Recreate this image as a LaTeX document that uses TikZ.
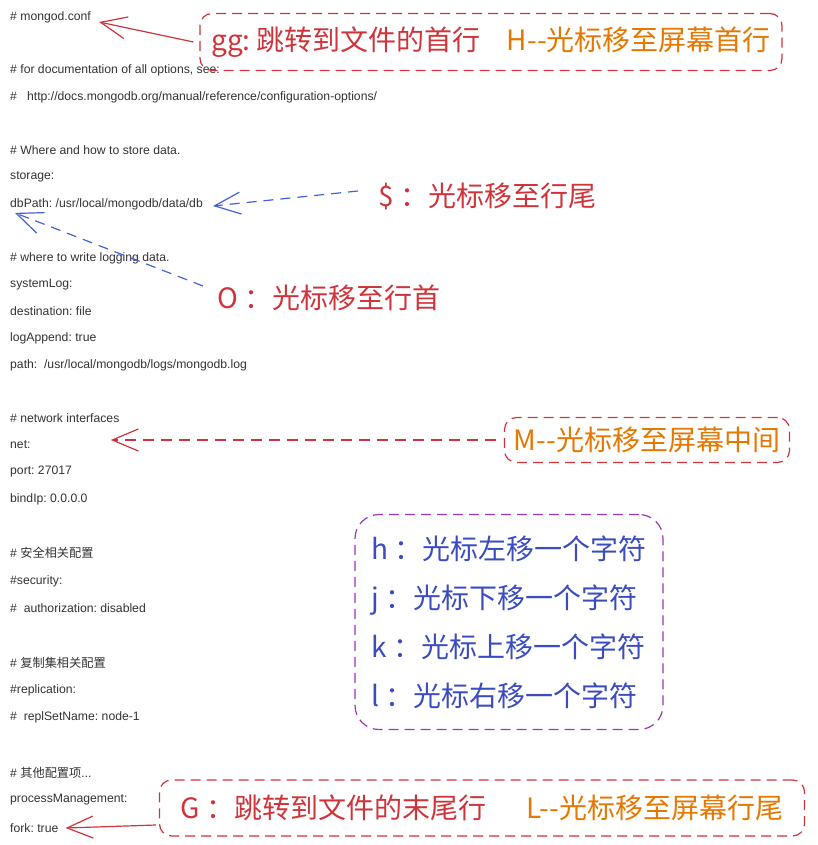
\documentclass[tikz,border=0pt]{standalone}
\usepackage{fontspec}
\setmainfont{Liberation Sans}
\newfontfamily\cjk{Noto Sans CJK SC}
\usepackage{tikz}
\usetikzlibrary{arrows.meta,positioning,calc}
\definecolor{ink}{HTML}{333333}
\definecolor{brick}{HTML}{D0343A}
\definecolor{amber}{HTML}{E67700}
\definecolor{indigo}{HTML}{3B4CC0}
\definecolor{sky}{HTML}{4262D8}
\definecolor{violet}{HTML}{9C36B5}
\newcommand{\notefont}{\cjk\fontsize{28}{32}\selectfont}
\frenchspacing

\begin{document}
\begin{tikzpicture}[
  x=1pt,y=-1pt,
  code/.style={anchor=west,inner sep=0pt,text=ink,font=\fontsize{12.2}{14}\selectfont},
  note/.style={anchor=west,inner sep=0pt,font=\notefont},
  tip/.style={draw=brick,dashed,dash pattern=on 10pt off 6pt,line width=1.2pt,
              rounded corners=12pt,font=\notefont,inner sep=0pt},
  redarr/.style={-{Straight Barb[length=26pt,width=22pt,line width=1.2pt]},line width=1.2pt,brick},
  bluearr/.style={-{Straight Barb[length=26pt,width=22pt,line width=1.2pt]},line width=1.2pt,sky,
              dash pattern=on 10pt off 7pt}
]
\useasboundingbox (0,0) rectangle (817,845);
\node[code] (conf) at (10,17) {\# mongod.conf};
\node[code] (docs) at (10,70) {\# for documentation of all options, see:};
\node[code] (url) at (10,97) {\#\ \ \ http://docs.mongodb.org/manual/reference/configuration-options/};
\node[code] (storec) at (10,150) {\# Where and how to store data.};
\node[code] (storage) at (10,177) {storage:};
\node[code] (dbpath) at (10,204) {dbPath: /usr/local/mongodb/data/db};
\node[code] (logc) at (10,258) {\# where to write logging data.};
\node[code] (syslog) at (10,285) {systemLog:};
\node[code] (dest) at (10,311) {destination: file};
\node[code] (logapp) at (10,338) {logAppend: true};
\node[code] (logpath) at (10,365) {path:\ \ /usr/local/mongodb/logs/mongodb.log};
\node[code] (netc) at (10,418) {\# network interfaces};
\node[code] (net) at (10,445) {net:};
\node[code] (port) at (10,472) {port: 27017};
\node[code] (bind) at (10,499) {bindIp: 0.0.0.0};
\node[code] (secc) at (10,553) {\# {\cjk 安全相关配置}};
\node[code] (security) at (10,581) {\#security:};
\node[code] (auth) at (10,608) {\#\ \ authorization: disabled};
\node[code] (replc) at (10,663) {\# {\cjk 复制集相关配置}};
\node[code] (repl) at (10,690) {\#replication:};
\node[code] (replset) at (10,717) {\#\ \ replSetName: node-1};
\node[code] (otherc) at (10,773) {\# {\cjk 其他配置项}...};
\node[code] (procm) at (10,800) {processManagement:};
\node[code] (fork) at (10,828) {fork: true};

\node[tip,minimum width=582pt,minimum height=57pt] (gg) at (491,42)
  {\textcolor{brick}{gg: 跳转到文件的首行}\hspace{26pt}\textcolor{amber}{H--光标移至屏幕首行}};
\node[note,text=brick] (dollar) at (378,196) {\$ ：光标移至行尾};
\node[note,text=brick] (zero) at (217,298) {O ：光标移至行首};
\node[tip,minimum width=285pt,minimum height=45pt] (mid) at (647,440)
  {\textcolor{amber}{M--光标移至屏幕中间}};
\node[tip,draw=violet,rounded corners=24pt,minimum width=308pt,minimum height=215pt,
      align=left,text=indigo] (hjkl) at (509,622)
  {h ：光标左移一个字符\\[17pt]j ：光标下移一个字符\\[17pt]k ：光标上移一个字符\\[17pt]l ：光标右移一个字符};
\node[tip,minimum width=645pt,minimum height=56pt] (last) at (482,808)
  {\textcolor{brick}{G ：跳转到文件的末尾行}\hspace{40pt}\textcolor{amber}{L--光标移至屏幕行尾}};

\draw[redarr] ([xshift=-6pt]gg.west) -- ([xshift=8pt,yshift=-5pt]conf.east);
\draw[bluearr] ([xshift=-20pt,yshift=5pt]dollar.west) -- ([xshift=10pt,yshift=-2pt]dbpath.east);
\draw[bluearr] ([xshift=-14pt,yshift=12pt]zero.west) -- ([xshift=5pt,yshift=-3pt]dbpath.south west);
\draw[redarr,dash pattern=on 11pt off 7pt] ([xshift=-8pt]mid.west) -- ([xshift=80pt,yshift=5pt]net.east);
\draw[redarr] ([xshift=-3pt,yshift=-17pt]last.west) -- ([xshift=7pt]fork.east);
\end{tikzpicture}
\end{document}
